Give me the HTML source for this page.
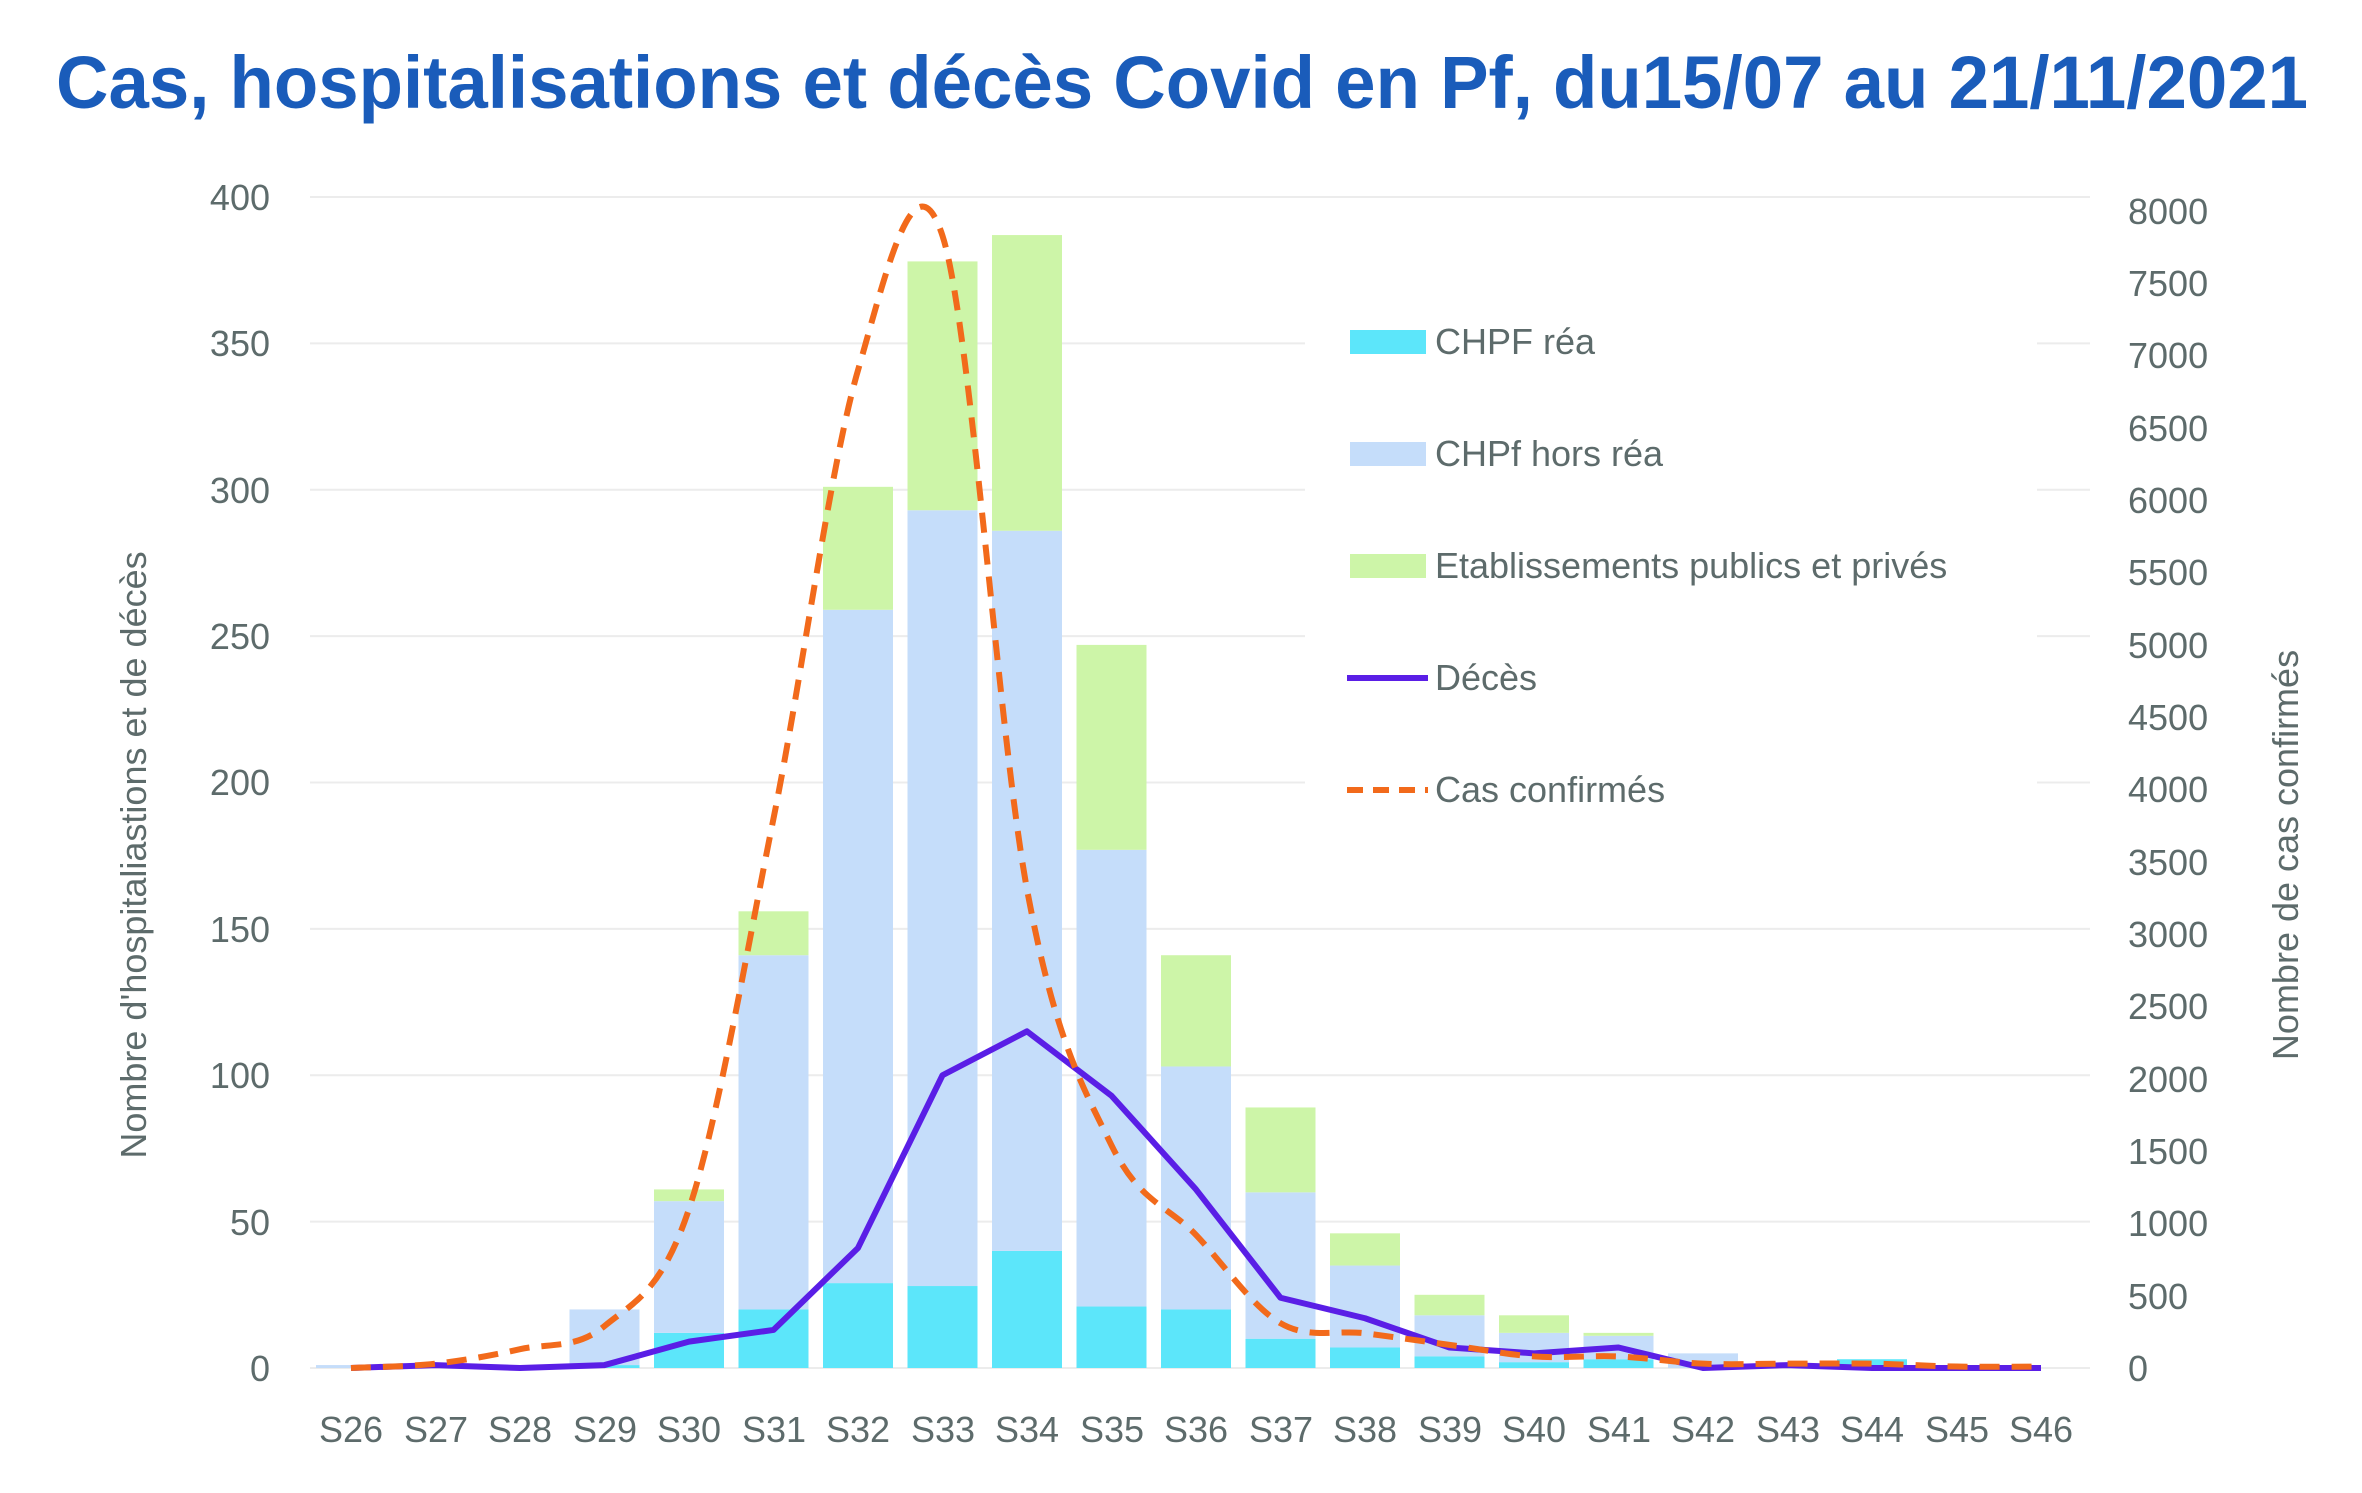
<!DOCTYPE html>
<html><head><meta charset="utf-8"><style>
html,body{margin:0;padding:0;background:#fff;}
svg{display:block}
text{font-family:"Liberation Sans",sans-serif;fill:#5d6b6b}
</style></head><body>
<svg id="s" width="2362" height="1493" viewBox="0 0 2362 1493" xmlns="http://www.w3.org/2000/svg">
<rect width="2362" height="1493" fill="#fff"/>
<text x="56" y="108" font-size="74" font-weight="bold" style="fill:#1a5cba" textLength="2252" lengthAdjust="spacingAndGlyphs">Cas, hospitalisations et décès Covid en Pf, du15/07 au 21/11/2021</text>
<g transform="translate(0,-5)">
<g id="grid"></g>
<g id="bars"></g>
<g id="lines"></g>
<rect x="1305" y="300" width="732" height="540" fill="#fff"/>
<g font-size="36" text-anchor="end">
<text x="270" y="1386">0</text><text x="270" y="1240">50</text><text x="270" y="1093">100</text><text x="270" y="947">150</text><text x="270" y="800">200</text><text x="270" y="654">250</text><text x="270" y="508">300</text><text x="270" y="361">350</text><text x="270" y="215">400</text>
</g>
<g font-size="36" text-anchor="start">
<text x="2128" y="1386">0</text><text x="2128" y="1314">500</text><text x="2128" y="1241">1000</text><text x="2128" y="1169">1500</text><text x="2128" y="1097">2000</text><text x="2128" y="1024">2500</text><text x="2128" y="952">3000</text><text x="2128" y="880">3500</text><text x="2128" y="807">4000</text><text x="2128" y="735">4500</text><text x="2128" y="663">5000</text><text x="2128" y="590">5500</text><text x="2128" y="518">6000</text><text x="2128" y="446">6500</text><text x="2128" y="373">7000</text><text x="2128" y="301">7500</text><text x="2128" y="229">8000</text>
</g>
<g font-size="36" text-anchor="middle">
<text x="351" y="1447">S26</text><text x="436" y="1447">S27</text><text x="520" y="1447">S28</text><text x="605" y="1447">S29</text><text x="689" y="1447">S30</text><text x="774" y="1447">S31</text><text x="858" y="1447">S32</text><text x="943" y="1447">S33</text><text x="1027" y="1447">S34</text><text x="1112" y="1447">S35</text><text x="1196" y="1447">S36</text><text x="1281" y="1447">S37</text><text x="1365" y="1447">S38</text><text x="1450" y="1447">S39</text><text x="1534" y="1447">S40</text><text x="1619" y="1447">S41</text><text x="1703" y="1447">S42</text><text x="1788" y="1447">S43</text><text x="1872" y="1447">S44</text><text x="1957" y="1447">S45</text><text x="2041" y="1447">S46</text>
</g>
<text font-size="36" text-anchor="middle" transform="translate(146,860) rotate(-90)">Nombre d'hospitaliastions et de décès</text>
<text font-size="36" text-anchor="middle" transform="translate(2298,860) rotate(-90)">Nombre de cas confirmés</text>
<rect x="1350" y="335" width="76" height="24" fill="#5ce6fa"/>
<rect x="1350" y="447" width="76" height="24" fill="#c5ddfa"/>
<rect x="1350" y="559" width="76" height="24" fill="#cdf5a8"/>
<line x1="1347" y1="683" x2="1428" y2="683" stroke="#5a1ee6" stroke-width="6"/>
<line x1="1347" y1="795" x2="1428" y2="795" stroke="#f26a1b" stroke-width="6" stroke-dasharray="16,10"/>
<g font-size="36">
<text x="1435" y="359">CHPF réa</text>
<text x="1435" y="471">CHPf hors réa</text>
<text x="1435" y="583">Etablissements publics et privés</text>
<text x="1435" y="695">Décès</text>
<text x="1435" y="807">Cas confirmés</text>
</g>
</g>
</svg>
<script>
(function(){
var NS="http://www.w3.org/2000/svg";
function el(p,t,a){var e=document.createElementNS(NS,t);for(var k in a)e.setAttribute(k,a[k]);p.appendChild(e);return e;}
var y0=1373,ku=2.9275,kr=0.1446;
function X(i){return 351+i*84.5;}
var g=document.getElementById('grid');
for(var v=0;v<=400;v+=50){var y=y0-v*ku;el(g,'line',{x1:310,x2:2090,y1:y,y2:y,stroke:'#ececec','stroke-width':2});}
var rea=[0,0,0,1,12,20,29,28,40,21,20,10,7,4,2,3,0,0,3,0,0];
var hors=[1,0,0,20,57,141,259,293,286,177,103,60,35,18,12,11,5,1,3,0,0];
var tot=[1,0,1,20,61,156,301,378,387,247,141,89,46,25,18,12,5,1,3,0,0];
var b=document.getElementById('bars');
for(var i=0;i<21;i++){var x=X(i)-35;
 function r(a,c,col){if(c>a)el(b,'rect',{x:x,width:70,y:y0-c*ku,height:(c-a)*ku,fill:col});}
 r(0,rea[i],'#5ce6fa');r(rea[i],hors[i],'#c5ddfa');r(hors[i],tot[i],'#cdf5a8');}
var dec=[0,1,0,1,9,13,41,100,115,93,61,24,17,7,5,7,0,1,0,0,0];
var cas=[0,30,130,290,1100,3800,6900,7830,3310,1540,920,310,240,160,80,80,30,30,30,10,10];
var L=document.getElementById('lines');
var d='';for(i=0;i<21;i++)d+=(i?'L':'M')+X(i)+','+(y0-dec[i]*ku);
el(L,'path',{d:d,fill:'none',stroke:'#5a1ee6','stroke-width':6,'stroke-linejoin':'round'});
var P=cas.map(function(v,i){return [X(i),y0-v*kr];});
d='M'+P[0][0]+','+P[0][1];
for(i=0;i<20;i++){var p0=P[Math.max(i-1,0)],p1=P[i],p2=P[i+1],p3=P[Math.min(i+2,20)];
 d+='C'+(p1[0]+(p2[0]-p0[0])/6)+','+(p1[1]+(p2[1]-p0[1])/6)+' '+(p2[0]-(p3[0]-p1[0])/6)+','+(p2[1]-(p3[1]-p1[1])/6)+' '+p2[0]+','+p2[1];}
el(L,'path',{d:d,fill:'none',stroke:'#f26a1b','stroke-width':6,'stroke-dasharray':'20,12'});
})();
</script>
</body></html>
